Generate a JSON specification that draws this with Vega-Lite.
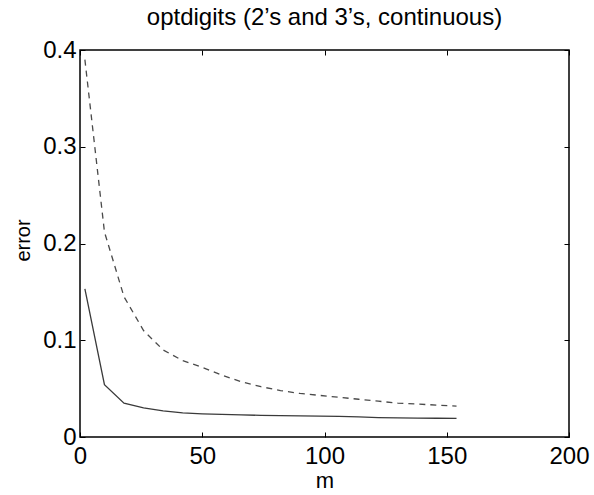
{
  "$schema": "https://vega.github.io/schema/vega-lite/v6.json",
  "autosize": "none",
  "width": 489,
  "height": 387,
  "padding": {"left": 80, "top": 50, "right": 25, "bottom": 58},
  "background": "white",
  "title": {"text": "optdigits (2’s and 3’s, continuous)", "font": "Liberation Sans", "fontSize": 24, "fontWeight": "normal", "color": "#000", "offset": 8},
  "config": {
    "view": {"stroke": "#000", "strokeWidth": 1.5},
    "axis": {"domain": false, "grid": false, "labelFont": "Liberation Sans", "labelFontSize": 24, "labelColor": "#000", "labelFlush": false, "titleFont": "Liberation Sans", "titleFontSize": 22, "titleFontWeight": "normal", "titleColor": "#000", "tickColor": "#000", "tickSize": -5, "tickWidth": 1}
  },
  "datasets": {
    "solid": [
      {"m": 2, "error": 0.153}, {"m": 10, "error": 0.054}, {"m": 18, "error": 0.035}, {"m": 26, "error": 0.030},
      {"m": 34, "error": 0.027}, {"m": 42, "error": 0.0250}, {"m": 50, "error": 0.0240}, {"m": 58, "error": 0.0233},
      {"m": 66, "error": 0.0228}, {"m": 74, "error": 0.0224}, {"m": 82, "error": 0.0221}, {"m": 90, "error": 0.0219},
      {"m": 98, "error": 0.0216}, {"m": 106, "error": 0.0213}, {"m": 114, "error": 0.0208}, {"m": 122, "error": 0.0201},
      {"m": 130, "error": 0.0198}, {"m": 138, "error": 0.0196}, {"m": 146, "error": 0.0194}, {"m": 154, "error": 0.0192}
    ],
    "dashed": [
      {"m": 2, "error": 0.39}, {"m": 10, "error": 0.212}, {"m": 18, "error": 0.145}, {"m": 26, "error": 0.110},
      {"m": 34, "error": 0.090}, {"m": 42, "error": 0.079}, {"m": 50, "error": 0.072}, {"m": 58, "error": 0.064},
      {"m": 66, "error": 0.057}, {"m": 74, "error": 0.052}, {"m": 82, "error": 0.048}, {"m": 90, "error": 0.045},
      {"m": 98, "error": 0.043}, {"m": 106, "error": 0.041}, {"m": 114, "error": 0.039}, {"m": 122, "error": 0.037},
      {"m": 130, "error": 0.035}, {"m": 138, "error": 0.034}, {"m": 146, "error": 0.033}, {"m": 154, "error": 0.032}
    ]
  },
  "layer": [
    {
      "data": {"name": "solid"},
      "mark": {"type": "line", "color": "#3a3a3a", "strokeWidth": 1.3},
      "encoding": {
        "x": {"field": "m", "type": "quantitative", "scale": {"domain": [0, 200], "nice": false, "zero": false},
              "axis": {"values": [0, 50, 100, 150, 200], "title": "m", "labelPadding": 12, "titlePadding": 2, "format": "d"}},
        "y": {"field": "error", "type": "quantitative", "scale": {"domain": [0, 0.4], "nice": false},
              "axis": {"values": [0, 0.1, 0.2, 0.3, 0.4], "title": "error", "titleFontSize": 20, "titleX": -57, "titleY": 190, "titleBaseline": "middle", "format": ".1~f", "labelPadding": 9}}
      }
    },
    {
      "data": {"name": "dashed"},
      "mark": {"type": "line", "color": "#4a4a4a", "strokeWidth": 1.3, "strokeDash": [6, 5]},
      "encoding": {
        "x": {"field": "m", "type": "quantitative", "scale": {"domain": [0, 200], "nice": false, "zero": false},
              "axis": {"orient": "top", "values": [0, 50, 100, 150, 200], "labels": false, "title": null}},
        "y": {"field": "error", "type": "quantitative", "scale": {"domain": [0, 0.4], "nice": false},
              "axis": {"orient": "right", "values": [0, 0.1, 0.2, 0.3, 0.4], "labels": false, "title": null}}
      }
    }
  ],
  "resolve": {"axis": {"x": "independent", "y": "independent"}}
}
